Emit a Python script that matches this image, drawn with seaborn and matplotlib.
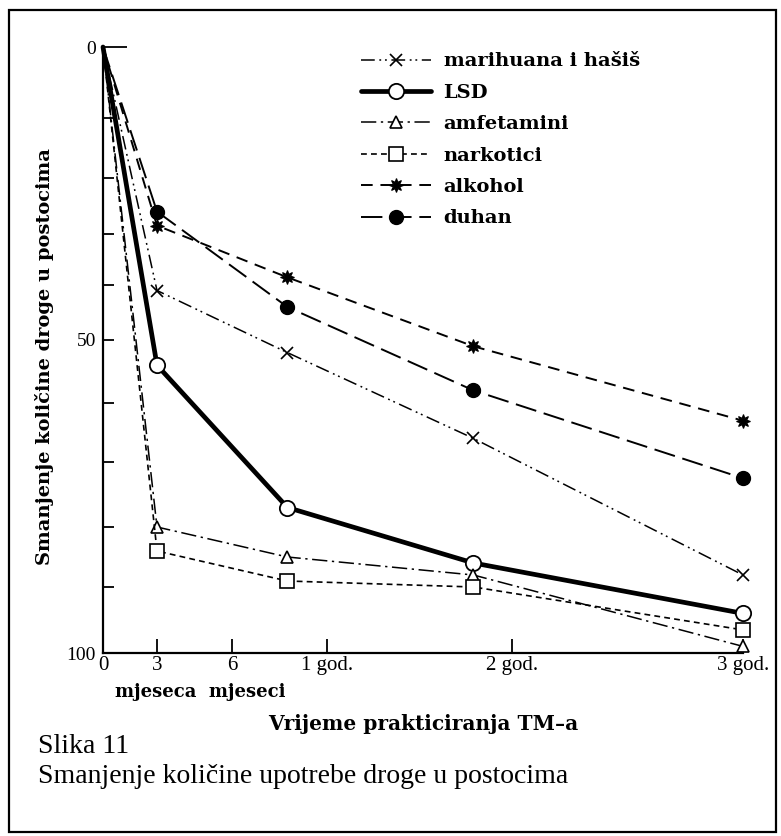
import numpy as np
import matplotlib
matplotlib.use("Agg")
import matplotlib.pyplot as plt
import seaborn as sns
from matplotlib.patches import Rectangle

# months of TM practice (0 = start)
months = [0, 3, 9.5, 21.5, 36]

# reduction of drug use (0 at top, 100 at bottom)
marihuana = [0, 41, 52, 66, 88]
lsd = [0, 54, 77, 86, 94]
amfetamini = [0, 80, 85, 88, 99]
narkotici = [0, 84, 89, 90, 96.5]
alkohol = [0, 28.5, 38.5, 51, 63]
duhan = [0, 26, 44, 58, 72.5]

labels = ["marihuana i hašiš", "LSD", "amfetamini", "narkotici", "alkohol", "duhan"]
series = [marihuana, lsd, amfetamini, narkotici, alkohol, duhan]

x_ticks = [0, 3, 6, 12, 24, 36]
x_ticklabels = ["0", "3", "6", "1 god.", "2 god.", "3 god."]
y_ticks = list(range(0, 101, 10))

# the original axis is hand drawn, tick spacing is uneven -> piecewise scales
x_anchor_px = [0, 54, 129, 224, 409, 640]
y_anchor_px = [0, 71, 131, 187, 238, 293, 356, 415, 480, 540, 606]


def piecewise(data_pts, px_pts):
    fwd = lambda v: np.interp(v, data_pts, px_pts)
    inv = lambda p: np.interp(p, px_pts, data_pts)
    return fwd, inv


sns.set_style("ticks")
plt.rcParams["font.family"] = ["DejaVu Serif"]
plt.rcParams["text.color"] = "k"
plt.rcParams["axes.labelcolor"] = "k"
plt.rcParams["xtick.color"] = "k"
plt.rcParams["ytick.color"] = "k"

styles = [
    dict(ls=(0, (9, 3, 1.2, 2.5, 1.2, 3)), lw=1.1, marker="x", ms=8, mfc="k", mew=1.2),
    dict(ls="-", lw=3.4, marker="o", ms=11, mfc="white", mew=1.3),
    dict(ls=(0, (10, 3, 1.5, 3)), lw=1.1, marker="^", ms=9, mfc="white", mew=1.2),
    dict(ls=(0, (3.5, 2.5)), lw=1.2, marker="s", ms=10, mfc="white", mew=1.2),
    dict(ls=(0, (6, 4)), lw=1.4, marker=(8, 1, 0), ms=10, mfc="k", mew=0.8),
    dict(ls=(0, (11, 4)), lw=1.4, marker="o", ms=10, mfc="k", mew=1.0),
]

fig = plt.figure(figsize=(7.81, 8.36), dpi=100)
ax = fig.add_axes([103 / 781, 1 - 653 / 836, 640 / 781, 606 / 836])

ax.set_xscale("function", functions=piecewise(x_ticks, x_anchor_px))
ax.set_yscale("function", functions=piecewise(y_ticks, y_anchor_px))

for lab, vals, st in zip(labels, series, styles):
    sns.lineplot(
        x=months, y=vals, ax=ax, color="k", label=lab,
        linestyle=st["ls"], linewidth=st["lw"], marker=st["marker"],
        markersize=st["ms"], markerfacecolor=st["mfc"],
        mec="k", mew=st["mew"], markevery=[1, 2, 3, 4], clip_on=False,
    )

ax.set_xlim(0, 36)
ax.set_ylim(100, 0)
sns.despine(ax=ax)
for sp in ax.spines.values():
    sp.set_linewidth(1.6)
    sp.set_color("k")

ax.set_xticks(x_ticks)
ax.set_xticklabels(x_ticklabels, family="Liberation Serif", fontsize=15)
ax.set_yticks(y_ticks)
ax.set_yticklabels([str(t) if t in (0, 50, 100) else "" for t in y_ticks],
                   family="Liberation Serif", fontsize=14)
ax.tick_params(axis="y", direction="in", length=8, width=1.3, pad=5)
ax.tick_params(axis="x", direction="in", length=10, width=1.3, pad=2)
ax.yaxis.get_major_ticks()[0].tick1line.set_markersize(17)

ax.text(12 / 640, -0.05, "mjeseca  mjeseci", transform=ax.transAxes, ha="left",
        va="top", fontsize=13, fontweight="bold")

ax.set_xlabel("Vrijeme prakticiranja TM–a", fontsize=14.5, fontweight="bold")
ax.xaxis.set_label_coords(0.5, -0.1)
ax.set_ylabel("Smanjenje količine droge u postocima", fontsize=14, fontweight="bold")
ax.yaxis.set_label_coords(-0.077, 0.49)

leg = ax.legend(loc="upper left", bbox_to_anchor=(0.375, 1.02), frameon=False,
                handlelength=3.6, handletextpad=0.67, labelspacing=0.69, numpoints=1,
                prop={"weight": "bold", "size": 14})

fig.text(38 / 781, 1 - 734 / 836, "Slika 11", family="Liberation Serif",
         fontsize=20, va="top")
fig.text(38 / 781, 1 - 764 / 836, "Smanjenje količine upotrebe droge u postocima",
         family="Liberation Serif", fontsize=20, va="top")

fig.add_artist(Rectangle((0.012, 0.005), 0.982, 0.983, transform=fig.transFigure,
                         fill=False, lw=1.6, ec="k"))

fig.savefig("out.png", dpi=100)
